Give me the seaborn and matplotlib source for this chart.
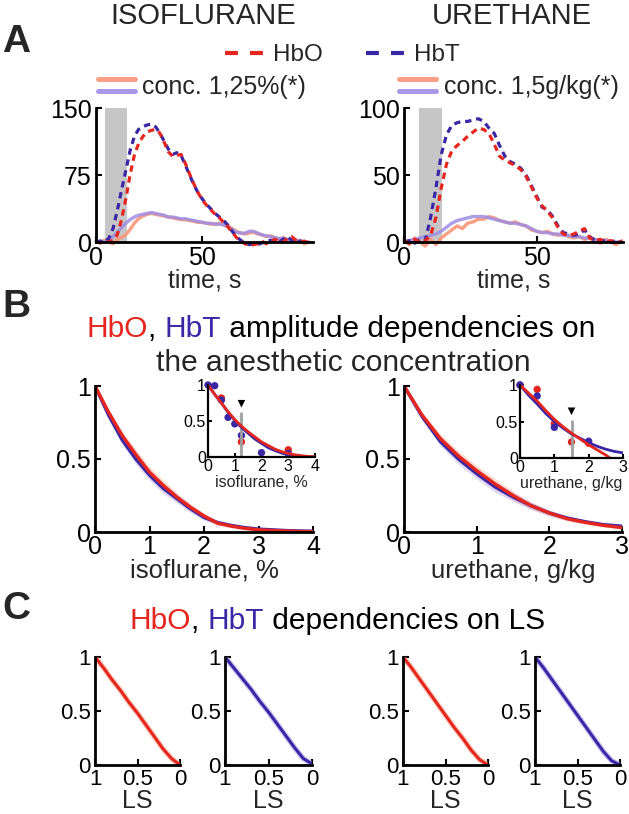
import numpy as np
import pandas as pd
import seaborn as sns
import matplotlib.pyplot as plt
from matplotlib.lines import Line2D
from matplotlib.legend_handler import HandlerBase

# ---------------- data ----------------
# Panel A: isoflurane responses, t = 0..100 s every 2 s
iso_t = list(range(0, 101, 2))
iso_hbt = [0, 1, 0, 4, 15, 35, 58, 80, 102, 118, 126, 129, 131, 132, 129, 122, 113, 104, 98, 100,
           97, 86, 75, 64, 55, 48, 42, 37, 32, 28, 24, 19, 12, 6, 2, -1, -3, -2, -3, -1,
           0, 2, 1, 0, 3, 6, 2, -1, 1, 0, 0]
iso_hbo = [0, -1, 1, 0, 2, 8, 25, 48, 75, 97, 110, 118, 123, 125, 126, 122, 112, 101, 96, 97,
           98, 88, 76, 65, 55, 47, 41, 36, 31, 27, 22, 17, 11, 5, 1, -2, -4, -3, -2, 1,
           -2, 0, 3, 1, 0, 4, 6, 2, 0, 1, -1]
iso_conc_hbt = [0, 1, 0, 3, 6, 11, 16, 21, 25, 28, 30, 31, 32, 33, 32, 31, 30, 28, 28, 27,
                26, 26, 25, 24, 23, 22, 21, 21, 20, 20, 19, 17, 14, 11, 10, 10, 12, 12, 10, 8,
                7, 6, 5, 4, 4, 3, 2, 2, 1, 0, 0]
iso_conc_hbo = [1, -1, 2, 0, -2, 3, 5, 8, 14, 21, 26, 29, 31, 32, 31, 30, 29, 28, 27, 26,
                25, 25, 24, 23, 22, 22, 21, 20, 20, 21, 20, 18, 15, 12, 10, 9, 10, 11, 9, 8,
                6, 7, 5, 3, 5, 2, 4, 1, 2, -2, 0]
iso_stim = (4, 14.5)

# Panel A: urethane responses, t = 0..82 s every 2 s
ure_t = list(range(0, 83, 2))
ure_hbt = [0, 1, -1, 2, 1, 18, 40, 65, 80, 87, 89, 90, 90, 91, 92, 90, 85, 81, 72, 64,
           60, 58, 55, 50, 42, 34, 26, 24, 19, 12, 7, 6, 5, 6, 9, 4, 1, 0, 2, 0, 1, 0]
ure_hbo = [1, -1, 2, 0, 1, 5, 18, 40, 58, 68, 72, 75, 79, 82, 85, 84, 81, 73, 64, 61,
           59, 57, 54, 49, 41, 33, 27, 23, 18, 11, 6, 5, 6, 8, 10, 3, 1, 2, 0, 1, 0, 0]
ure_conc_hbt = [0, 1, 2, 3, 4, 5, 6, 8, 11, 14, 16, 17, 18, 19, 19, 19, 18, 17, 16, 15,
                14, 14, 13, 12, 10, 8, 7, 7, 6, 6, 5, 5, 4, 4, 3, 3, 2, 1, 1, 0, 0, 0]
ure_conc_hbo = [2, -2, 3, 0, -3, 2, -2, 3, 6, 9, 12, 10, 14, 15, 17, 17, 19, 18, 16, 15,
                14, 15, 13, 12, 9, 8, 7, 8, 6, 5, 6, 4, 3, 4, 2, 3, 1, -1, 2, 0, -2, 1]
ure_stim = (5.5, 14.3)

# Panel B: amplitude vs concentration (normalised)
iso_x = [0, 0.25, 0.5, 0.75, 1, 1.25, 1.5, 1.75, 2, 2.25, 2.5, 2.75, 3, 3.25, 3.5, 3.75, 4]
iso_amp_hbo = [1, 0.82, 0.66, 0.53, 0.41, 0.32, 0.24, 0.17, 0.11, 0.06, 0.04, 0.025, 0.015,
               0.01, 0.007, 0.004, 0.003]
iso_amp_hbt = [1, 0.80, 0.63, 0.50, 0.39, 0.30, 0.23, 0.16, 0.10, 0.065, 0.045, 0.03, 0.02,
               0.015, 0.01, 0.007, 0.005]
iso_band = [0, 0.02, 0.03, 0.035, 0.035, 0.035, 0.03, 0.025, 0.02, 0.015, 0.01, 0.008,
            0.006, 0.005, 0.004, 0.003, 0.003]
ure_x = [0, 0.25, 0.5, 0.75, 1, 1.25, 1.5, 1.75, 2, 2.25, 2.5, 2.75, 3]
ure_amp_hbo = [1, 0.80, 0.64, 0.52, 0.42, 0.33, 0.25, 0.18, 0.13, 0.09, 0.065, 0.045, 0.03]
ure_amp_hbt = [1, 0.79, 0.62, 0.50, 0.40, 0.31, 0.24, 0.18, 0.13, 0.095, 0.07, 0.05, 0.04]
ure_band = [0, 0.02, 0.03, 0.035, 0.035, 0.035, 0.03, 0.025, 0.02, 0.015, 0.012, 0.01, 0.01]

# insets: measured points and fits
iso_pts_hbo_x = [0.5, 1.25, 3]
iso_pts_hbo_y = [0.82, 0.21, 0.10]
iso_pts_hbt_x = [0, 0.25, 0.5, 0.75, 1, 1.25, 2, 3]
iso_pts_hbt_y = [1, 0.99, 0.79, 0.55, 0.46, 0.30, 0.06, 0.05]
iso_fit_hbo = [1, 0.87, 0.75, 0.63, 0.52, 0.43, 0.35, 0.28, 0.21, 0.16, 0.11, 0.075, 0.05,
               0.03, 0.018, 0.008, 0.003]
iso_fit_hbt = [1, 0.87, 0.75, 0.62, 0.51, 0.41, 0.33, 0.25, 0.19, 0.13, 0.09, 0.055, 0.03,
               0.015, 0.005, 0.0, 0.0]
iso_dose, iso_dose_top, iso_arrow = 1.25, 0.62, 0.74

ure_pts_hbo_x = [0, 0.5, 1, 1.5, 2]
ure_pts_hbo_y = [1, 0.94, 0.47, 0.22, 0.20]
ure_pts_hbt_x = [0, 0.5, 1, 2]
ure_pts_hbt_y = [1, 0.85, 0.42, 0.23]
ure_fit_hbo_x = [0, 0.25, 0.5, 0.75, 1, 1.25, 1.5, 1.75, 2, 2.25, 2.5, 2.62]
ure_fit_hbo = [1, 0.89, 0.78, 0.65, 0.53, 0.43, 0.34, 0.26, 0.18, 0.11, 0.04, 0.0]
ure_fit_hbt = [1, 0.86, 0.74, 0.61, 0.50, 0.41, 0.33, 0.27, 0.21, 0.16, 0.12, 0.09, 0.07]
ure_dose, ure_dose_top, ure_arrow = 1.5, 0.52, 0.64

# Panel C: dependencies on LS
ls = [1, 0.9, 0.8, 0.7, 0.6, 0.5, 0.4, 0.3, 0.2, 0.1, 0]
ls_iso_hbo = [1, 0.90, 0.79, 0.69, 0.58, 0.48, 0.37, 0.26, 0.15, 0.06, 0.0]
ls_iso_hbt = [1, 0.90, 0.80, 0.70, 0.59, 0.49, 0.38, 0.27, 0.16, 0.06, 0.01]
ls_ure_hbo = [1, 0.90, 0.79, 0.68, 0.57, 0.46, 0.35, 0.25, 0.14, 0.05, 0.0]
ls_ure_hbt = [1, 0.90, 0.79, 0.68, 0.57, 0.46, 0.35, 0.24, 0.13, 0.04, 0.0]

RED = '#e5261f'
BLUE = '#3a27a6'
SALMON = '#fb9677'
LAVENDER = '#9e8de3'
GRAY = '#c6c6c6'

# ---------------- style ----------------
sns.set_style('ticks')
plt.rcParams['font.family'] = ['Liberation Sans', 'DejaVu Sans']

W, H = 629, 814
fig = plt.figure(figsize=(W / 100, H / 100), dpi=100)


def box(l, t, r, b):
    return [l / W, 1 - b / H, (r - l) / W, (b - t) / H]


def fx(px):
    return px / W


def fy(py):
    return 1 - py / H


def style_axes(ax, size=18, lw=2.0, tl=4):
    sns.despine(ax=ax)
    for s in ('left', 'bottom'):
        ax.spines[s].set_linewidth(lw)
        ax.spines[s].set_color('black')
    ax.tick_params(direction='in', length=tl, width=1.5, labelsize=size, pad=3, colors='black')


class ConcKey:
    colors = (SALMON, LAVENDER)


class TwoLineHandler(HandlerBase):
    def create_artists(self, legend, orig_handle, xdescent, ydescent, width, height, fontsize, trans):
        arts = []
        for frac, col in zip((0.85, 0.15), orig_handle.colors):
            y = -ydescent + height * frac
            arts.append(Line2D([-xdescent, -xdescent + width], [y, y], color=col, lw=3.6,
                               alpha=0.9, solid_capstyle='round', transform=trans))
        return arts


def colored_line(host, x0, ybase, parts, size):
    # multi-coloured one-line title, pieces chained left to right
    prev = fig.text(fx(x0), fy(ybase), parts[0][0], color=parts[0][1], fontsize=size,
                    ha='left', va='baseline')
    for s, c in parts[1:]:
        prev = host.annotate(s, xy=(1, 0), xycoords=prev, va='bottom', ha='left',
                             color=c, fontsize=size, annotation_clip=False)


# ---------------- panel A ----------------
panelA = [
    (box(96, 108, 313, 242), iso_t, iso_hbo, iso_hbt, iso_conc_hbo, iso_conc_hbt, iso_stim,
     (0, 102), (0, 150), [0, 75, 150], 'conc. 1,25%(*)', 97.5),
    (box(404, 108, 623, 242), ure_t, ure_hbo, ure_hbt, ure_conc_hbo, ure_conc_hbt, ure_stim,
     (0, 82.5), (0, 100), [0, 50, 100], 'conc. 1,5g/kg(*)', 399.5),
]
for rect, t, hbo, hbt, c_hbo, c_hbt, stim, xl, yl, yt, conc_lab, lx in panelA:
    ax = fig.add_axes(rect)
    ax.axvspan(stim[0], stim[1], color=GRAY, lw=0, zorder=0)
    df = pd.DataFrame({'t': t, 'hbo': hbo, 'hbt': hbt, 'c_hbo': c_hbo, 'c_hbt': c_hbt})
    sns.lineplot(data=df, x='t', y='c_hbo', color=SALMON, lw=2.4, alpha=0.9, ax=ax,
                 estimator=None, sort=False, clip_on=False)
    sns.lineplot(data=df, x='t', y='c_hbt', color=LAVENDER, lw=2.4, alpha=0.85, ax=ax,
                 estimator=None, sort=False, clip_on=False)
    sns.lineplot(data=df, x='t', y='hbt', color=BLUE, lw=2.3, ax=ax, estimator=None,
                 sort=False, clip_on=False, linestyle=(0, (2.0, 1.5)))
    sns.lineplot(data=df, x='t', y='hbo', color=RED, lw=2.3, ax=ax, estimator=None,
                 sort=False, clip_on=False, linestyle=(0, (2.0, 1.5)))
    ax.set_xlim(*xl)
    ax.set_ylim(*yl)
    ax.set_xticks([0, 50])
    ax.set_yticks(yt)
    ax.set_xlabel('time, s', fontsize=18, labelpad=-1)
    ax.set_ylabel('')
    style_axes(ax)
    ax.legend(handles=[ConcKey()], labels=[conc_lab], handler_map={ConcKey: TwoLineHandler()},
              loc='center left', bbox_to_anchor=(fx(lx), fy(87)), bbox_transform=fig.transFigure,
              frameon=False, borderpad=0, borderaxespad=0, fontsize=18, handlelength=1.48,
              handleheight=0.7, handletextpad=0.3)

fig.legend(handles=[Line2D([], [], color=RED, lw=3, ls=(0, (3.1, 2.9))),
                    Line2D([], [], color=BLUE, lw=3, ls=(0, (3.1, 2.9)))],
           labels=['HbO', 'HbT'], ncol=2, loc='center left',
           bbox_to_anchor=(fx(225), fy(55)), frameon=False, borderpad=0, borderaxespad=0,
           fontsize=17.5, handlelength=1.56, handletextpad=0.41, columnspacing=1.8)

fig.text(fx(203), fy(16), 'ISOFLURANE', fontsize=21, ha='center', va='center')
fig.text(fx(512), fy(16), 'URETHANE', fontsize=21, ha='center', va='center')
for letter, ypos in (('A', 42), ('B', 307), ('C', 609)):
    fig.text(fx(2), fy(ypos), letter, fontsize=28, fontweight='bold', ha='left', va='center')

# ---------------- panel B ----------------
panelB = [
    (box(95, 386, 313, 532), iso_x, iso_amp_hbo, iso_amp_hbt, iso_band, (0, 4),
     [0, 1, 2, 3, 4], 'isoflurane, %'),
    (box(404, 386, 622, 532), ure_x, ure_amp_hbo, ure_amp_hbt, ure_band, (0, 3),
     [0, 1, 2, 3], 'urethane, g/kg'),
]
b_axes = []
for rect, x, hbo, hbt, band, xl, xt, lab in panelB:
    ax = fig.add_axes(rect)
    b_axes.append(ax)
    x = np.array(x)
    band = np.array(band)
    for y, lc, bc in ((np.array(hbo), RED, SALMON), (np.array(hbt), BLUE, LAVENDER)):
        ax.fill_between(x, y - band, y + band, color=bc, alpha=0.35, lw=0)
    sns.lineplot(x=x, y=hbt, color=BLUE, lw=2.4, ax=ax, estimator=None, sort=False)
    sns.lineplot(x=x, y=hbo, color=RED, lw=2.4, ax=ax, estimator=None, sort=False)
    ax.set_xlim(*xl)
    ax.set_ylim(0, 1)
    ax.set_xticks(xt)
    ax.set_yticks([0, 0.5, 1])
    ax.set_yticklabels(['0', '0.5', '1'])
    ax.set_xlabel(lab, fontsize=18.5, labelpad=0)
    style_axes(ax)
    ax.tick_params(axis='x', pad=2)

colored_line(b_axes[0], 87, 337, [('HbO', RED), (', ', 'black'), ('HbT', BLUE),
                                  (' amplitude dependencies on', 'black')], 21.5)
fig.text(fx(343), fy(371), 'the anesthetic concentration', fontsize=21.5,
         ha='center', va='baseline')

insets = [
    (box(208, 385, 315, 457), iso_x, iso_fit_hbo, iso_x, iso_fit_hbt,
     iso_pts_hbo_x, iso_pts_hbo_y, iso_pts_hbt_x, iso_pts_hbt_y,
     iso_dose, iso_dose_top, iso_arrow, (0, 4), [0, 1, 2, 3, 4], 'isoflurane, %'),
    (box(520, 385, 623, 458), ure_fit_hbo_x, ure_fit_hbo, ure_x, ure_fit_hbt,
     ure_pts_hbo_x, ure_pts_hbo_y, ure_pts_hbt_x, ure_pts_hbt_y,
     ure_dose, ure_dose_top, ure_arrow, (0, 3), [0, 1, 2, 3], 'urethane, g/kg'),
]
for (rect, fxo, fyo, fxt, fyt, pxo, pyo, pxt, pyt, dose, dtop, arr, xl, xt, lab) in insets:
    ax = fig.add_axes(rect)
    ax.patch.set_alpha(0)
    ax.vlines(dose, 0, dtop, color='#a0a0a0', lw=2)
    sns.scatterplot(x=[dose], y=[arr], marker='v', color='black', s=30, ax=ax,
                    edgecolor='none', clip_on=False)
    sns.lineplot(x=fxt, y=fyt, color=BLUE, lw=2, ax=ax, estimator=None, sort=False)
    sns.lineplot(x=fxo, y=fyo, color=RED, lw=2, ax=ax, estimator=None, sort=False)
    sns.scatterplot(x=pxo, y=pyo, color=RED, s=28, edgecolor='none', ax=ax, clip_on=False)
    sns.scatterplot(x=pxt, y=pyt, color=BLUE, s=28, edgecolor='none', ax=ax, clip_on=False)
    ax.set_xlim(*xl)
    ax.set_ylim(0, 1)
    ax.set_xticks(xt)
    ax.set_yticks([0, 0.5, 1])
    ax.set_yticklabels(['0', '0.5', '1'])
    ax.set_xlabel(lab, fontsize=11.5, labelpad=1)
    style_axes(ax, size=11.5, lw=1.6, tl=3)
    ax.tick_params(pad=1.5)

# ---------------- panel C ----------------
panelC = [
    (box(95, 657, 180, 765), ls_iso_hbo, RED, SALMON),
    (box(225, 657, 312, 765), ls_iso_hbt, BLUE, LAVENDER),
    (box(403, 657, 488, 765), ls_ure_hbo, RED, SALMON),
    (box(535, 657, 620, 765), ls_ure_hbt, BLUE, LAVENDER),
]
c_axes = []
for rect, y, lc, bc in panelC:
    ax = fig.add_axes(rect)
    c_axes.append(ax)
    sns.lineplot(x=ls, y=y, color=bc, lw=4, alpha=0.5, ax=ax, estimator=None, sort=False)
    sns.lineplot(x=ls, y=y, color=lc, lw=2.2, ax=ax, estimator=None, sort=False)
    ax.set_xlim(1, 0)
    ax.set_ylim(0, 1)
    ax.set_xticks([1, 0.5, 0])
    ax.set_xticklabels(['1', '0.5', '0'])
    ax.set_yticks([0, 0.5, 1])
    ax.set_yticklabels(['0', '0.5', '1'])
    ax.set_xlabel('LS', fontsize=18, labelpad=-1)
    style_axes(ax, size=16)

colored_line(c_axes[0], 130, 629, [('HbO', RED), (', ', 'black'), ('HbT', BLUE),
                                   (' dependencies on LS', 'black')], 21.5)

fig.savefig('out.png', dpi=100)
